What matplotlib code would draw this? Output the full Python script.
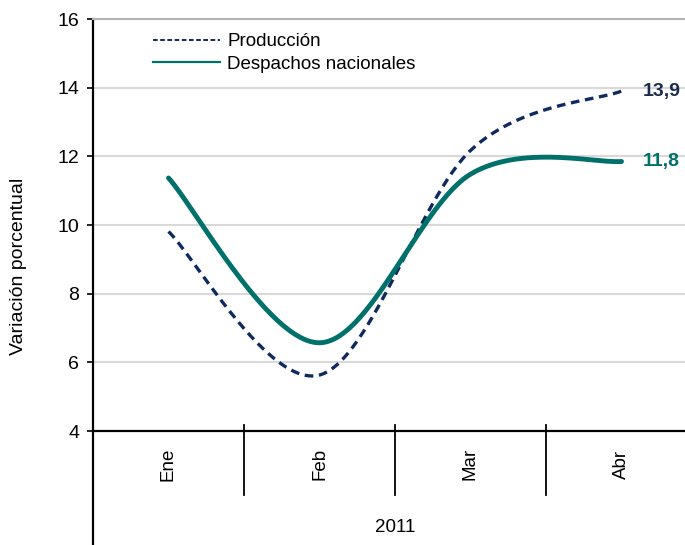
import numpy as np
import matplotlib
matplotlib.use("Agg")
import matplotlib.pyplot as plt
from matplotlib.lines import Line2D
import matplotlib.transforms as mtransforms

plt.rcParams['font.family'] = ['Liberation Sans', 'DejaVu Sans']

months = ["Ene", "Feb", "Mar", "Abr"]
year_label = "2011"
produccion = [9.81, 5.63, 12.17, 13.9]
despachos = [11.37, 6.57, 11.48, 11.85]
end_labels = ["13,9", "11,8"]
series_names = ["Producción", "Despachos nacionales"]
yticks = [4, 6, 8, 10, 12, 14, 16]

navy = "#0f2a5e"
teal = "#00706a"


def smooth(xs, ys, n=60):
    """Excel-like smoothed line (Catmull-Rom as cubic Bezier)."""
    P = np.column_stack([xs, ys]).astype(float)
    P = np.vstack([P[0], P, P[-1]])
    out = []
    for i in range(1, len(P) - 2):
        p0, p1, p2, p3 = P[i - 1], P[i], P[i + 1], P[i + 2]
        b0 = p1
        b1 = p1 + (p2 - p0) / 6.0
        b2 = p2 - (p3 - p1) / 6.0
        b3 = p2
        t = np.linspace(0, 1, n)[:, None]
        seg = ((1 - t) ** 3) * b0 + 3 * ((1 - t) ** 2) * t * b1 + 3 * (1 - t) * t ** 2 * b2 + t ** 3 * b3
        out.append(seg if i == 1 else seg[1:])
    c = np.vstack(out)
    return c[:, 0], c[:, 1]


fig = plt.figure(figsize=(6.85, 5.45), dpi=100)
ax = fig.add_axes([93 / 685, 1 - 431 / 545, 604 / 685, 412 / 545])

x = np.arange(len(months))
xs, ys = smooth(x, produccion)
ax.plot(xs, ys, color=navy, lw=2.4, linestyle=(0, (2.6, 1.7)), zorder=3)
xs, ys = smooth(x, despachos)
ax.plot(xs, ys, color=teal, lw=3.5, solid_capstyle='round', zorder=4)

ax.set_xlim(-0.5, 3.5)
ax.set_ylim(4, 16)
ax.set_yticks(yticks)
ax.set_yticklabels([str(v) for v in yticks], fontsize=14)
ax.yaxis.grid(True, color="#d9d9d9", lw=1.5)
ax.set_axisbelow(True)
ax.set_xticks([])
for s in ["right"]:
    ax.spines[s].set_visible(False)
ax.spines["top"].set_color("#b3b3b3")
ax.spines["top"].set_linewidth(1.5)
ax.spines["left"].set_linewidth(1.6)
ax.spines["bottom"].set_linewidth(1.6)
ax.tick_params(axis='y', length=4, width=1.2, pad=6)

fig.text(19 / 685, 1 - 266 / 545, "Variación porcentual", rotation=90,
         ha='center', va='center', fontsize=14)

# category separators and axis extension
trans = mtransforms.blended_transform_factory(ax.transData, ax.transAxes)
for b in [0.5, 1.5, 2.5]:
    ax.plot([b, b], [0.015, -0.155], transform=trans, color="black", lw=1.3, clip_on=False)
ax.plot([-0.5, -0.5], [0, -0.3], transform=trans, color="black", lw=1.6, clip_on=False)
for xi, m in zip(x, months):
    ax.text(xi, -0.08, m, transform=trans, rotation=90, ha='center', va='center', fontsize=13.5)
ax.text(1.5, -0.235, year_label, transform=trans, ha='center', va='center', fontsize=13.5)

# end labels
ax.annotate(end_labels[0], (x[-1], produccion[-1]), xytext=(15, 0), textcoords='offset points',
            ha='left', va='center', fontsize=14, fontweight='bold', color="#1c2b4e", annotation_clip=False)
ax.annotate(end_labels[1], (x[-1], despachos[-1]), xytext=(15, 0), textcoords='offset points',
            ha='left', va='center', fontsize=14, fontweight='bold', color=teal, annotation_clip=False)

handles = [Line2D([], [], color=navy, lw=1.4, linestyle=(0, (2.4, 1.3))),
           Line2D([], [], color=teal, lw=1.6)]
leg = fig.legend(handles, series_names, loc='upper left', bbox_to_anchor=(153 / 685, 1 - 33 / 545),
                 frameon=False, fontsize=13.5, handlelength=3.55, handletextpad=0.4,
                 labelspacing=0.3, borderpad=0, borderaxespad=0)

fig.savefig("out.png", dpi=100)
